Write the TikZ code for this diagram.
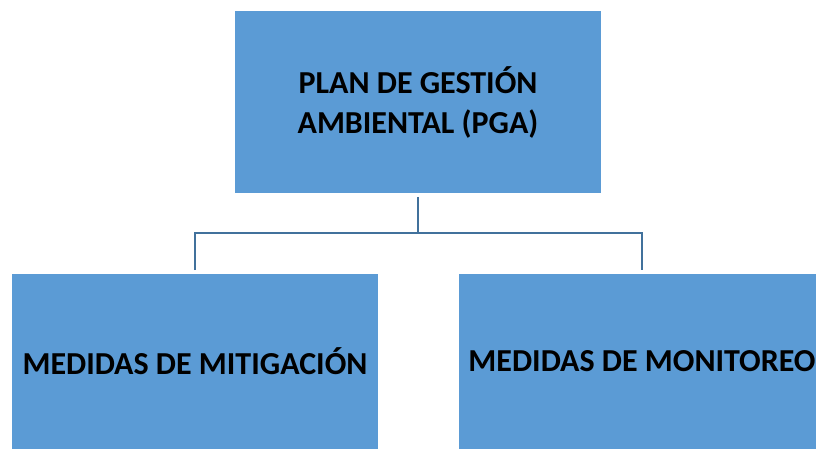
\documentclass[tikz,border=0pt]{standalone}
\usepackage{fontspec}
\setmainfont{Carlito}
\definecolor{boxblue}{HTML}{5B9BD5}
\definecolor{linkblue}{HTML}{41719C}
\begin{document}
\begin{tikzpicture}[x=0.75pt,y=-0.75pt,
  box/.style={fill=boxblue,draw=none,inner sep=0pt,align=center,
    font=\fontsize{24}{30}\selectfont\bfseries,text=black},
  conn/.style={draw=linkblue,line width=1.7pt}]
\useasboundingbox (0,0) rectangle (816,450);
\node[box,minimum width=274.5pt,minimum height=136.5pt] (pga) at (418,102) {PLAN DE GESTIÓN\\AMBIENTAL (PGA)};
\node[box,minimum width=274.5pt,minimum height=131.25pt] (mit) at (195,361.5) {MEDIDAS DE MITIGACIÓN};
\node[box,minimum width=274.5pt,minimum height=131.25pt] (mon) at (642,361.5) {MEDIDAS DE MONITOREO};
\coordinate (j) at (418,233);
\draw[conn,shorten <=2.7pt] (pga.south) -- (j);
\draw[conn,shorten <=2.7pt,shorten >=2.7pt] (mit.north) -- (mit.north |- j) -- (mon.north |- j) -- (mon.north);
\end{tikzpicture}
\end{document}
